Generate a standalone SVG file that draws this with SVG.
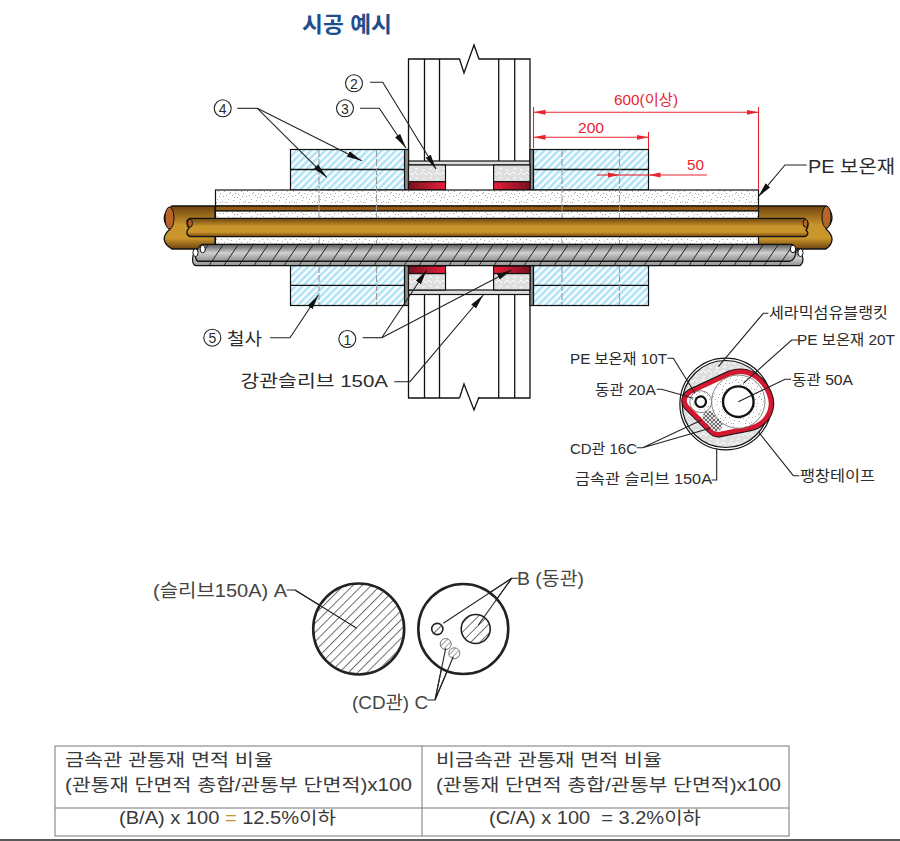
<svg xmlns="http://www.w3.org/2000/svg" width="900" height="841" viewBox="0 0 900 841">
<style>
text{font-family:"Liberation Sans","Noto Sans CJK KR",sans-serif;fill:#2b2b2b;font-size:16px}
.s{font-size:14.5px}
.r{fill:#e8252f;font-size:15px}
.o{fill:none;stroke:#111;stroke-width:1.3}
.t{stroke:#111;stroke-width:1.2}
.l{fill:none;stroke:#222;stroke-width:1.1}
.a{marker-end:url(#ah)}
.dim{fill:none;stroke:#e8252f;stroke-width:1.1}
.d{stroke:#9a9a9a;stroke-width:1.1;stroke-dasharray:7 2;fill:none}
.tb{fill:#3a3a3a;font-size:17.5px}
.big{font-size:18px;fill:#444}
</style>
<defs>
<marker id="ah" markerUnits="userSpaceOnUse" markerWidth="16" markerHeight="8" refX="15" refY="4" orient="auto"><path d="M0 1 15 4 0 7z" fill="#111"/></marker>
<marker id="ra" markerUnits="userSpaceOnUse" markerWidth="14" markerHeight="6" refX="12" refY="3" orient="auto-start-reverse"><path d="M0 .5 12 3 0 5.5z" fill="#e8252f"/></marker>
<pattern id="blue" patternUnits="userSpaceOnUse" width="5" height="8" patternTransform="rotate(45)"><rect width="5" height="8" fill="#fff"/><rect width="2.6" height="8" fill="#aee3f8"/></pattern>
<pattern id="stip" patternUnits="userSpaceOnUse" width="23" height="17"><rect width="23" height="17" fill="#fff"/><path d="M1 2h1v1H1zM5 6h1v1H5zM9 1h1v1H9zM12 9h1v1h-1zM17 4h1v1h-1zM21 12h1v1h-1zM3 13h1v1H3zM7 10h1v1H7zM15 14h1v1h-1zM19 8h1v1h-1zM11 4h1v1h-1zM14 1h1v1h-1zM2 8h1v1H2zM9 15h1v1H9zM18 15h1v1h-1zM6 3h1v1H6zM20 1h1v1h-1zM13 6h1v1h-1zM4 10h1v1H4zM10 12h1v1h-1zM16 9h1v1h-1zM22 6h1v1h-1zM0 5h1v1H0zM8 7h1v1H8zM13 15h1v1h-1zM20 15h1v1h-1z" fill="#a8a8a8"/></pattern>
<pattern id="fill" patternUnits="userSpaceOnUse" width="14" height="9"><rect width="14" height="9" fill="#dedede"/><path d="M0 4 3 1 6 4 9 1 12 4M2 8h3M9 7h3" fill="none" stroke="#fff" stroke-width="1"/></pattern>
<pattern id="h1" patternUnits="userSpaceOnUse" width="6.5" height="8" patternTransform="rotate(45)"><rect width="6.5" height="8" fill="#fff"/><line x1="0.5" y1="0" x2="0.5" y2="8" stroke="#444" stroke-width=".8"/></pattern>
<pattern id="h2" patternUnits="userSpaceOnUse" width="4" height="8" patternTransform="rotate(45)"><rect width="4" height="8" fill="#fff"/><line x1="0.5" y1="0" x2="0.5" y2="8" stroke="#777" stroke-width=".7"/></pattern>
<pattern id="cab" patternUnits="userSpaceOnUse" width="15" height="22"><path d="M0 22 15 0M-15 22 0 0M15 22 30 0" stroke="#222" stroke-width="1" fill="none"/></pattern>
<pattern id="cd" patternUnits="userSpaceOnUse" width="4" height="4"><rect width="4" height="4" fill="#fff"/><circle cx="2" cy="2" r="1.6" fill="#fff" stroke="#222" stroke-width=".7"/></pattern>
<linearGradient id="pipe" x1="0" y1="0" x2="0" y2="1"><stop offset="0" stop-color="#6f430f"/><stop offset=".45" stop-color="#c9962c"/><stop offset=".75" stop-color="#c9962c"/><stop offset="1" stop-color="#6f430f"/></linearGradient>
<linearGradient id="band" x1="0" y1="0" x2="0" y2="1"><stop offset="0" stop-color="#8a5412"/><stop offset="1" stop-color="#9c6417"/></linearGradient>
<linearGradient id="gr" x1="0" y1="0" x2="0" y2="1"><stop offset="0" stop-color="#555"/><stop offset=".5" stop-color="#d0d0d0"/><stop offset="1" stop-color="#8e8e8e"/></linearGradient>
<linearGradient id="redL" x1="0" y1="0" x2="1" y2="0"><stop offset="0" stop-color="#7c1020"/><stop offset="1" stop-color="#e81f3a"/></linearGradient>
<linearGradient id="redR" x1="0" y1="0" x2="1" y2="0"><stop offset="0" stop-color="#e81f3a"/><stop offset="1" stop-color="#7c1020"/></linearGradient>
</defs>
<rect width="900" height="841" fill="#fff"/>
<text id="title" x="302" y="32" textLength="90" lengthAdjust="spacingAndGlyphs" style="font-size:22px;font-weight:700;fill:#1f4e8c">시공 예시</text>

<g id="wall-top">
<path class="o" fill="#fff" d="M408.5 161V59H459.5L464 73 474 45 479 59H530V161"/>
<path class="o" d="M424.5 59V161M439.5 59V161M498.7 59V161M514.7 59V161"/>
</g>
<g id="wall-bottom">
<path class="o" d="M408.5 294V398H459.5M479 398H530V294"/>
<path class="o" d="M424.5 294V398M439.5 294V398M498.7 294V398M514.7 294V398M459.5 398 464 384 474 410 479 397"/>
</g>
<g id="sleeve">
<rect class="t" x="408.5" y="161" width="121.5" height="4" fill="#ddd"/>
<rect class="t" x="408.5" y="290" width="121.5" height="4.5" fill="#ddd"/>
<rect x="404.5" y="149.5" width="4" height="40.5" fill="#8f8f8f" class="t"/>
<rect x="530" y="149.5" width="3.5" height="40.5" fill="#8f8f8f" class="t"/>
<rect x="404.5" y="265.5" width="4" height="40" fill="#8f8f8f" class="t"/>
<rect x="530" y="265.5" width="3.5" height="40" fill="#8f8f8f" class="t"/>
</g>
<g id="firestop">
<rect x="408.5" y="165" width="37" height="17" fill="url(#fill)" class="t" stroke-width=".8"/>
<rect x="493.6" y="165" width="36.4" height="17" fill="url(#fill)" class="t" stroke-width=".8"/>
<rect x="408.5" y="273.5" width="37" height="16.5" fill="url(#fill)" class="t" stroke-width=".8"/>
<rect x="493.6" y="273.5" width="36.4" height="16.5" fill="url(#fill)" class="t" stroke-width=".8"/>
<rect x="408.5" y="181.7" width="37" height="8.3" fill="url(#redL)" class="t"/>
<rect x="493.6" y="181.7" width="36.4" height="8.3" fill="url(#redR)" class="t"/>
<rect x="408.5" y="266" width="37" height="7.5" fill="url(#redL)" class="t"/>
<rect x="493.6" y="266" width="36.4" height="7.5" fill="url(#redR)" class="t"/>
</g>
<g id="rockwool">
<rect x="290.5" y="149.5" width="114" height="40.5" fill="url(#blue)" class="t"/>
<rect x="533.5" y="149.5" width="115" height="40.5" fill="url(#blue)" class="t"/>
<rect x="290.5" y="265.5" width="114" height="40" fill="url(#blue)" class="t"/>
<rect x="533.5" y="265.5" width="115" height="40" fill="url(#blue)" class="t"/>
<path class="o" d="M290.5 169.5H404.5M533.5 169.5H648.5M290.5 285.3H404.5M533.5 285.3H648.5"/>
</g>
<g id="big-pipe">
<path d="M172 206H215V249H172C162 243 162 236 170 229C162 222 162 213 172 206Z" fill="url(#pipe)" stroke="#111" stroke-width="1.3"/>
<path d="M758 206H826C834 213 834 222 826 229C834 236 834 243 826 249H758Z" fill="url(#pipe)" stroke="#111" stroke-width="1.3"/>
<ellipse cx="169.5" cy="218" rx="4.5" ry="11" fill="#b5652a" stroke="#111"/>
<ellipse cx="826.5" cy="217" rx="4.5" ry="11" fill="#b5652a" stroke="#111"/>
</g>
<g id="pe-insulation">
<rect x="215.5" y="190" width="543" height="16" fill="url(#stip)" class="t"/>
<rect x="215.5" y="206" width="543" height="5" fill="url(#band)" class="t"/>
<rect x="215.5" y="211" width="543" height="33.5" fill="url(#stip)" class="t"/>
</g>
<path class="d" d="M319 150V245M376.5 150V245M562 150V245M619.5 150V245M319 266V305M376.5 266V305M562 266V305M619.5 266V305"/>
<g id="small-pipe">
<path d="M190 218.3H804C809 221 809 227 806 230C809 233 808 235 805 236.7H190C186 235 186 231 189 228C186 224 186 220 190 218.3Z" fill="url(#pipe)" stroke="#111" stroke-width="1.3"/>
<ellipse cx="190" cy="223.3" rx="2.4" ry="4" fill="#b5652a" stroke="#111"/>
<ellipse cx="805.5" cy="223.3" rx="2.4" ry="4" fill="#b5652a" stroke="#111"/>
</g>
<g id="cable">
<path d="M196 250H798C803 254 805 262 800 265.7H196C191 265 192 254 196 250Z" fill="url(#gr)" class="t"/>
<path d="M202 244.3H792C797 247 797 259 790 261.3H198C193 259 197 247 202 244.3Z" fill="url(#gr)" class="t"/>
<rect x="203" y="244.3" width="588" height="21.4" fill="url(#cab)"/>
<path d="M198 261.3H790" class="o"/>
<ellipse cx="195.5" cy="252.7" rx="2.6" ry="3.8" fill="#fff" stroke="#111"/>
<ellipse cx="202.7" cy="249" rx="2.6" ry="3.8" fill="#fff" stroke="#111"/>
<ellipse cx="793" cy="249" rx="2.6" ry="3.8" fill="#fff" stroke="#111"/>
<ellipse cx="800.5" cy="252.7" rx="2.6" ry="3.8" fill="#fff" stroke="#111"/>
</g>

<g id="section">
<circle cx="725.7" cy="404" r="45.8" fill="#fff" stroke="#111" stroke-width="1.2"/>
<circle cx="725.7" cy="404" r="43.5" fill="url(#fill)" stroke="#111" stroke-width="1.2"/>
<path id="tape" d="M684.5 401C684.5 397 687 394 690 392L730 373.5C755 365 772 390 771 405C770 418 760 426 750 428L720 434C716 435 713 433 710 430L687 407C685.5 405 684.5 403 684.5 401Z" fill="#fff" stroke="#111" stroke-width="6.5" stroke-linejoin="round"/>
<path d="M684.5 401C684.5 397 687 394 690 392L730 373.5C755 365 772 390 771 405C770 418 760 426 750 428L720 434C716 435 713 433 710 430L687 407C685.5 405 684.5 403 684.5 401Z" fill="#fff" stroke="#d4182f" stroke-width="4.6" stroke-linejoin="round"/>
<circle cx="738.3" cy="401.7" r="26.7" fill="url(#stip)" stroke="#666" stroke-width=".8"/>
<circle cx="738.3" cy="401.7" r="15.3" fill="#fff" stroke="#111" stroke-width="2.4"/>
<circle cx="700.7" cy="401.7" r="11" fill="url(#stip)" stroke="#666" stroke-width=".8"/>
<circle cx="700.7" cy="401.7" r="5.3" fill="#fff" stroke="#111" stroke-width="2.2"/>
<circle cx="709" cy="417.3" r="6.5" fill="url(#cd)"/>
<circle cx="716" cy="425" r="6.5" fill="url(#cd)"/>
</g>

<g id="connectors">
<path class="l a" d="M370 82.3H382.7L436 169"/>
<path class="l a" d="M360 108.3H379.3L406 148"/>
<path class="l" d="M237.3 108.3H257.3"/>
<path class="l a" d="M257.3 108.3 361.7 160.7"/>
<path class="l a" d="M257.3 108.3 326.7 177.3"/>
<path class="l a" d="M270 337.7H290L318.3 295"/>
<path class="l" d="M362.7 337.7H381.7"/>
<path class="l a" d="M381.7 337.7 426.7 270"/>
<path class="l a" d="M381.7 337.7 511.7 270"/>
<path class="l a" d="M394.3 381.7H410L483.3 295"/>
<path class="l a" d="M806.7 165H785L758.3 196.7"/>
<path class="l" d="M768.3 313.3H763.3L718.3 366.7"/>
<path class="l" d="M798.3 340H791.7L743.3 383.3"/>
<path class="l" d="M791 379.3H785L738.3 401.7"/>
<path class="l" d="M667.3 358.3H673.3L695 393.3"/>
<path class="l" d="M656.7 389.3H661.7L693.3 398.3"/>
<path class="l" d="M636.7 447.7H642.7L701.7 420M642.7 447.7 710 428.3"/>
<path class="l" d="M711.7 480H716.7V448.3"/>
<path class="l" d="M799.3 475.7H793.3L758.3 431.7"/>
<path class="l" stroke-width=".8" d="M286.7 590H295L356.7 628.3"/>
<path class="l" stroke-width=".8" d="M518.3 578.3H511.7L443.3 623.3M511.7 578.3 478.3 625"/>
<path class="l" stroke-width=".8" d="M427.3 700H435L445.7 648.3M435 700 453.3 656.7"/>
</g>

<g id="dimensions">
<path class="dim" d="M533.5 107V148M758.5 107V190M648.5 132V149"/>
<path class="dim" d="M533.5 112.3H758.5" marker-start="url(#ra)" marker-end="url(#ra)"/>
<path class="dim" d="M533.5 137.3H648.5" marker-start="url(#ra)" marker-end="url(#ra)"/>
<path class="dim" d="M597 175H619.5" marker-end="url(#ra)"/>
<path class="dim" d="M707 175H648.5" marker-end="url(#ra)"/>
<path class="dim" d="M619.5 175H648.5"/>
<text class="r" x="614" y="105" textLength="64" lengthAdjust="spacingAndGlyphs">600(이상)</text>
<text class="r" x="578" y="133" textLength="26" lengthAdjust="spacingAndGlyphs">200</text>
<text class="r" x="687" y="170" textLength="17" lengthAdjust="spacingAndGlyphs">50</text>
</g>

<g id="label-2"><circle class="l" cx="354" cy="83.3" r="8.5"/><text x="354" y="89" text-anchor="middle" style="font-size:14px">2</text></g>
<g id="label-3"><circle class="l" cx="345" cy="108.3" r="8.5"/><text x="345" y="114" text-anchor="middle" style="font-size:14px">3</text></g>
<g id="label-4"><circle class="l" cx="222.7" cy="108.3" r="8.5"/><text x="222.7" y="114" text-anchor="middle" style="font-size:14px">4</text></g>
<g id="label-1"><circle class="l" cx="347.3" cy="339" r="8.5"/><text x="347.3" y="344.5" text-anchor="middle" style="font-size:14px">1</text></g>
<g id="label-5"><circle class="l" cx="212.3" cy="337.7" r="8.5"/><text x="212.3" y="343" text-anchor="middle" style="font-size:14px">5</text><text x="227" y="345" textLength="35" lengthAdjust="spacingAndGlyphs" style="font-size:17px">철사</text></g>
<text id="label-sleeve" x="240.5" y="387" textLength="147.5" lengthAdjust="spacingAndGlyphs" style="font-size:17px">강관슬리브 150A</text>
<text id="label-pe" x="808" y="172.5" textLength="87" lengthAdjust="spacingAndGlyphs" style="font-size:18px">PE 보온재</text>

<g id="section-labels">
<text class="s" x="769" y="318" textLength="119" lengthAdjust="spacingAndGlyphs">세라믹섬유블랭킷</text>
<text class="s" x="797" y="345" textLength="98" lengthAdjust="spacingAndGlyphs">PE 보온재 20T</text>
<text class="s" x="570" y="364" textLength="97" lengthAdjust="spacingAndGlyphs">PE 보온재 10T</text>
<text class="s" x="792" y="385" textLength="61" lengthAdjust="spacingAndGlyphs">동관 50A</text>
<text class="s" x="595" y="395" textLength="61" lengthAdjust="spacingAndGlyphs">동관 20A</text>
<text class="s" x="570" y="454" textLength="67" lengthAdjust="spacingAndGlyphs">CD관 16C</text>
<text class="s" x="575" y="484" textLength="137" lengthAdjust="spacingAndGlyphs">금속관 슬리브 150A</text>
<text class="s" x="800" y="481" textLength="75" lengthAdjust="spacingAndGlyphs">팽창테이프</text>
</g>

<g id="circle-a">
<circle cx="358.7" cy="629" r="45.5" fill="url(#h1)" stroke="#222" stroke-width="2.6"/>
<text class="big" x="153" y="597" textLength="134" lengthAdjust="spacingAndGlyphs">(슬리브150A) A</text>
</g>
<g id="circle-b">
<circle cx="463.3" cy="629" r="45" fill="#fff" stroke="#222" stroke-width="2.6"/>
<circle cx="475.7" cy="629" r="14.5" fill="url(#h1)" stroke="#222" stroke-width="1.6"/>
<circle cx="437.3" cy="629" r="5.6" fill="url(#h1)" stroke="#222" stroke-width="1.6"/>
<circle cx="445.7" cy="644" r="5.5" fill="url(#h2)" stroke="#777" stroke-width="1"/>
<circle cx="454.3" cy="653.3" r="5.5" fill="url(#h2)" stroke="#777" stroke-width="1"/>
<text class="big" x="517" y="585" textLength="67" lengthAdjust="spacingAndGlyphs">B (동관)</text>
<text class="big" x="352" y="709" textLength="76" lengthAdjust="spacingAndGlyphs">(CD관) C</text>
</g>
<g id="leaders-over">
<path class="l" stroke-width=".8" d="M295 590 356.7 628.3M511.7 578.3 443.3 623.3M511.7 578.3 478.3 625M435 700 445.7 648.3M435 700 453.3 656.7"/>
</g>

<g id="table">
<rect x="55" y="746" width="734" height="90" fill="#fff" stroke="#777" stroke-width="1"/>
<path d="M422 746V836M55 808H789" stroke="#777" stroke-width="1" fill="none"/>
<text class="tb" x="65" y="766" textLength="208" lengthAdjust="spacingAndGlyphs">금속관 관통재 면적 비율</text>
<text class="tb" x="65" y="791" textLength="347" lengthAdjust="spacingAndGlyphs">(관통재 단면적 총합/관통부 단면적)x100</text>
<text class="tb" x="119" y="824" textLength="217" lengthAdjust="spacingAndGlyphs">(B/A) x 100 <tspan style="fill:#b8962a">=</tspan> 12.5%이하</text>
<text class="tb" x="436" y="766" textLength="226" lengthAdjust="spacingAndGlyphs">비금속관 관통재 면적 비율</text>
<text class="tb" x="436" y="791" textLength="345" lengthAdjust="spacingAndGlyphs">(관통재 단면적 총합/관통부 단면적)x100</text>
<text class="tb" x="489" y="824" textLength="212" lengthAdjust="spacingAndGlyphs" xml:space="preserve">(C/A) x 100  = 3.2%이하</text>
</g>
<path d="M0 840H900" stroke="#222" stroke-width="1.5"/>
</svg>
